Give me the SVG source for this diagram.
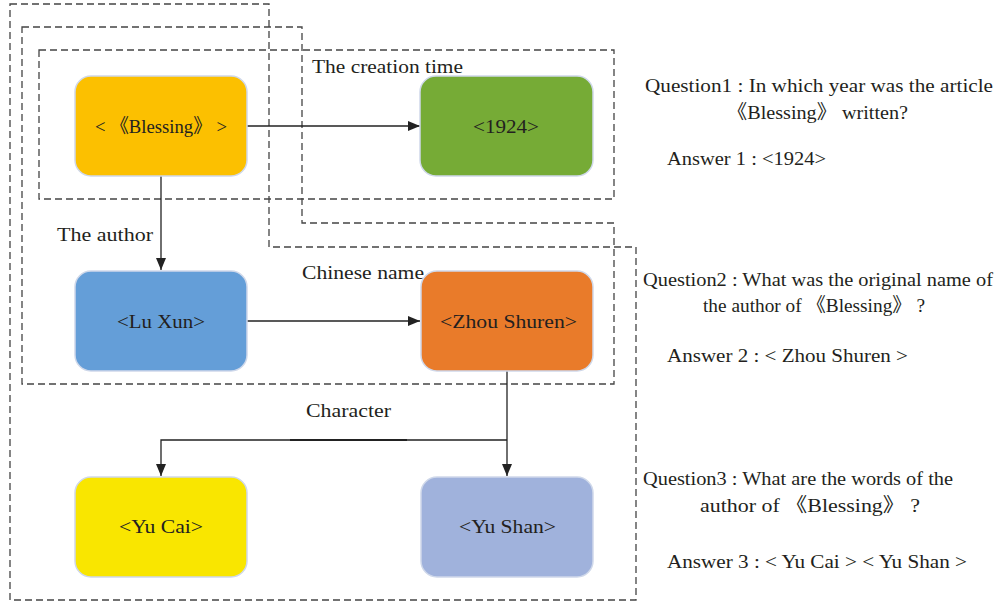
<svg xmlns="http://www.w3.org/2000/svg" width="998" height="608" viewBox="0 0 998 608">
<style>
.dash{fill:none;stroke:#444;stroke-width:1.3;stroke-dasharray:7,4}
.node{stroke:#cfd8ea;stroke-width:1.5}
.t{font-family:"Liberation Serif","Noto Sans CJK SC",serif;font-size:19.5px;fill:#231f20}
.c{text-anchor:middle}
.ln{fill:none;stroke:#222;stroke-width:1.3}
</style>
<defs>
<marker id="ah" viewBox="0 0 12 10" refX="12" refY="5" markerWidth="12" markerHeight="10" markerUnits="userSpaceOnUse" orient="auto">
<path d="M0,0 L12,5 L0,10 Z" fill="#222"/>
</marker>
</defs>
<rect width="998" height="608" fill="#fff"/>
<g id="groups">
<path class="dash" d="M10,4 H269 V247 H636 V600 H10 Z"/>
<path class="dash" d="M22,27 H302 V223 H614 V384 H22 Z"/>
<rect class="dash" x="39" y="50" width="575" height="149"/>
</g>
<g id="connectors">
<line class="ln" x1="247" y1="126" x2="420" y2="126" marker-end="url(#ah)"/>
<line class="ln" x1="161" y1="176" x2="161" y2="270" marker-end="url(#ah)"/>
<line class="ln" x1="247" y1="321" x2="420" y2="321" marker-end="url(#ah)"/>
<line class="ln" x1="507" y1="371" x2="507" y2="476" marker-end="url(#ah)"/>
<polyline class="ln" points="507,440 161,440 161,476" marker-end="url(#ah)"/>
<line x1="290" y1="440" x2="407" y2="440" stroke="#222" stroke-width="2.2"/>
<text class="t" x="312" y="73" textLength="151" lengthAdjust="spacingAndGlyphs">The creation time</text>
<text class="t" x="57" y="241" textLength="96" lengthAdjust="spacingAndGlyphs">The author</text>
<text class="t" x="302" y="279" textLength="122" lengthAdjust="spacingAndGlyphs">Chinese name</text>
<text class="t" x="306" y="417" textLength="85" lengthAdjust="spacingAndGlyphs">Character</text>
</g>
<g id="n-blessing">
<rect class="node" x="75" y="76" width="172" height="100" rx="16" fill="#fcc000"/>
<text class="t" x="95" y="133" textLength="132" lengthAdjust="spacingAndGlyphs">&lt; 《Blessing》 &gt;</text>
</g>
<g id="n-1924">
<rect class="node" x="420" y="76" width="173" height="100" rx="16" fill="#76ab36"/>
<text class="t" x="473" y="133" textLength="66" lengthAdjust="spacingAndGlyphs">&lt;1924&gt;</text>
</g>
<g id="n-luxun">
<rect class="node" x="75" y="271" width="172" height="100" rx="16" fill="#649ed8"/>
<text class="t" x="117" y="328" textLength="88" lengthAdjust="spacingAndGlyphs">&lt;Lu Xun&gt;</text>
</g>
<g id="n-zhou">
<rect class="node" x="421" y="271" width="172" height="100" rx="16" fill="#e97b2a"/>
<text class="t" x="440" y="328" textLength="137" lengthAdjust="spacingAndGlyphs">&lt;Zhou Shuren&gt;</text>
</g>
<g id="n-yucai">
<rect class="node" x="75" y="477" width="172" height="100" rx="16" fill="#f9e600"/>
<text class="t" x="119" y="533" textLength="84" lengthAdjust="spacingAndGlyphs">&lt;Yu Cai&gt;</text>
</g>
<g id="n-yushan">
<rect class="node" x="421" y="477" width="172" height="100" rx="16" fill="#a0b2dc"/>
<text class="t" x="459" y="533" textLength="97" lengthAdjust="spacingAndGlyphs">&lt;Yu Shan&gt;</text>
</g>
<g id="qa">
<text class="t" x="645" y="92" textLength="348" lengthAdjust="spacingAndGlyphs">Question1 : In which year was the article</text>
<text class="t" x="727" y="119" textLength="181" lengthAdjust="spacingAndGlyphs">《Blessing》 written?</text>
<text class="t" x="667" y="165" textLength="159" lengthAdjust="spacingAndGlyphs">Answer 1 : &lt;1924&gt;</text>
<text class="t" x="643" y="286" textLength="350" lengthAdjust="spacingAndGlyphs">Question2 : What was the original name of</text>
<text class="t" x="703" y="312" textLength="222" lengthAdjust="spacingAndGlyphs">the author of 《Blessing》 ?</text>
<text class="t" x="667" y="362" textLength="241" lengthAdjust="spacingAndGlyphs">Answer 2 : &lt; Zhou Shuren &gt;</text>
<text class="t" x="643" y="485" textLength="310" lengthAdjust="spacingAndGlyphs">Question3 : What are the words of the</text>
<text class="t" x="700" y="512" textLength="220" lengthAdjust="spacingAndGlyphs">author of 《Blessing》 ?</text>
<text class="t" x="667" y="568" textLength="300" lengthAdjust="spacingAndGlyphs">Answer 3 : &lt; Yu Cai &gt; &lt; Yu Shan &gt;</text>
</g>
</svg>
